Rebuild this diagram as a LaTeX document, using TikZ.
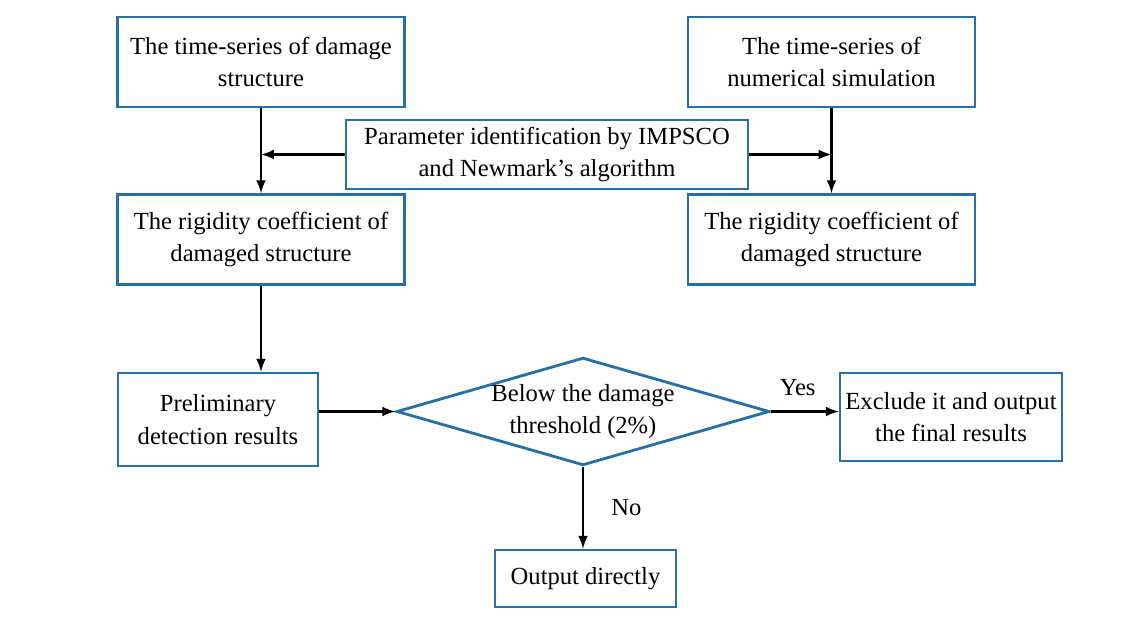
\documentclass[tikz,border=0pt]{standalone}
\usepackage{fontspec}
\setmainfont{Liberation Serif}
\usepackage{tikz}
\usetikzlibrary{arrows,shapes.geometric}
\definecolor{boxcolor}{RGB}{38,112,165}

\begin{document}
\begin{tikzpicture}
% fluxo de deteccao de dano: series temporais, identificacao de
% parametros e limiar de dano
  \tikzset{Box/.style  = {draw=boxcolor, line width=1.6pt, fill=white,
                          rectangle, align=center, inner sep=2pt,
                          font=\fontsize{14}{18.5}\selectfont},
           Decide/.style = {draw=boxcolor, line width=1.6pt, fill=white,
                          diamond, aspect=3.46, inner sep=0pt, align=center,
                          font=\fontsize{14}{18.5}\selectfont},
           Flow/.style = {-latex, line width=1.5pt, black},
           Lbl/.style  = {font=\fontsize{14}{18.5}\selectfont}}

\useasboundingbox (0,0) rectangle (22.86,12.36);

% part series
\node[Box, minimum width=5.74cm, minimum height=1.8cm] (dmgseries) at (5.22,11.12)
  {The time-series of damage\\ structure};
\node[Box, minimum width=5.74cm, minimum height=1.8cm] (numseries) at (16.63,11.12)
  {The time-series of\\ numerical simulation};

% part identification
\node[Box, minimum width=8.04cm, minimum height=1.38cm] (ident) at (10.94,9.27)
  {Parameter identification by IMPSCO\\ and Newmark's algorithm};
\node[Box, minimum width=5.74cm, minimum height=1.8cm] (rigleft) at (5.22,7.57)
  {The rigidity coefficient of\\ damaged structure};
\node[Box, minimum width=5.74cm, minimum height=1.8cm] (rigright) at (16.63,7.57)
  {The rigidity coefficient of\\ damaged structure};

% part detection
\node[Box, minimum width=4.0cm, minimum height=1.86cm] (prelim) at (4.36,3.97)
  {Preliminary\\ detection results};
\node[Decide, minimum width=7.4cm, minimum height=2.14cm] (thresh) at (11.66,4.13)
  {Below the damage\\ threshold (2\%)};
\node[Box, minimum width=4.44cm, minimum height=1.76cm] (exclude) at (19.02,4.02)
  {Exclude it and output\\ the final results};
\node[Box, minimum width=3.62cm, minimum height=1.14cm] (direct) at (11.71,0.79)
  {Output directly};

% edges
\draw[Flow] (dmgseries) -- (rigleft);
\draw[Flow] (numseries) -- (rigright);
\draw[Flow] (ident.west) -- (ident.west -| dmgseries.south);
\draw[Flow] (ident.east) -- (ident.east -| numseries.south);
\draw[Flow] (rigleft.south) -- (rigleft.south |- prelim.north);
\draw[Flow] (thresh.west -| prelim.east) -- (thresh.west);
\draw[Flow] (thresh.east) -- node[Lbl, above=5pt, xshift=-4pt] (yes) {Yes} (thresh.east -| exclude.west);
\draw[Flow] (thresh.south) -- node[Lbl, right=12pt] (no) {No} (thresh.south |- direct.north);

\end{tikzpicture}
\end{document}
